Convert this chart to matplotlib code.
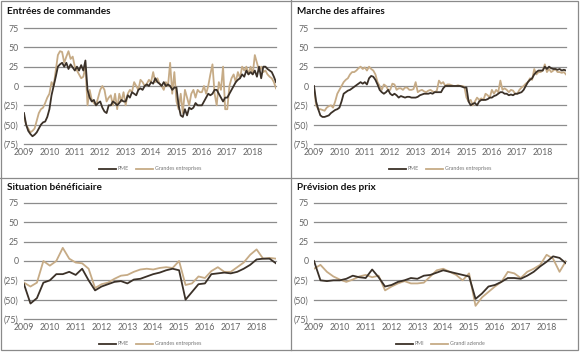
import numpy as np
import matplotlib
matplotlib.use("Agg")
import matplotlib.pyplot as plt
from matplotlib.patches import Rectangle
from matplotlib.lines import Line2D

plt.rcParams["font.family"] = ["Lato", "DejaVu Sans"]

DARK = "#3b3128"
TAN = "#c6ab86"
GRID = "#8c8c8c"
TICK = "#666666"

# monthly series, Jan 2009 - Dec 2018
cmd_pme = [
    -35, -50, -58, -62, -65, -63, -60, -55, -50, -47, -46, -40,
    -30, -12, 0, 12, 25, 28, 30, 25, 30, 22, 28, 24,
    20, 25, 20, 27, 20, 33, -5, -15, -20, -18, -25, -22,
    -20, -28, -33, -35, -25, -25, -20, -22, -25, -22, -18, -20,
    -20, -12, -15, -8, -10, -12, -5, -3, -5, 0, 2, 0,
    5, 3, 10, 5, 3, 0, 5, 0, 2, 0, -5, -2,
    -2, -25, -38, -40, -30, -38, -28, -30, -28, -22, -25, -25,
    -25, -20, -15, -10, -12, -10, -5, -5, -10, -15, -20, -15,
    -15, -10, -5, 0, 5, 8, 10, 15, 12, 20, 15, 18,
    15, 20, 12, 25, 10, 25, 25, 22, 20, 18, 12, 5,
]
cmd_ge = [
    -40, -50, -55, -60, -58, -55, -45, -35, -30, -28, -22, -15,
    -10, 5, 0, 20, 40, 45, 44, 30, 38, 45, 35, 38,
    25, 20, 15, 10, 12, 25, -25, -5, -18, -22, -25, -15,
    -5, 0, -5, -20, -15, -12, -25, -10, -30, -10, -20, -8,
    -25, -10, -5, -8, 5, 0, -5, 8, 5, 0, 3, 8,
    5, 18, 5, 10, 3, 0, -5, 5, 0, 30, -10, 18,
    -20, -30, -10, -35, -5, -15, -25, -10, -5, -15, -5, -8,
    -8, 0, -10, 0, 15, 28, -10, -25, 5, -5, 25, -30,
    -30, 0, 10, 15, 5, 18, 10, 25, 20, 25, 15, 25,
    15, 40, 30, 20, 25, 18, 20, 15, 12, 10, 5, -3,
]
aff_pme = [
    0, -20, -30, -38, -40, -40, -39, -38, -35, -33, -31, -30,
    -28, -20, -10, -8, -6, -5, -3, -1, 1, 3, 5, 3,
    5, 2, 10, 13, 12, 8, 2, -5, -8, -10, -8, -5,
    -10, -12, -10, -12, -15, -13, -14, -15, -14, -14, -15, -15,
    -15, -14, -12, -11, -10, -10, -10, -9, -10, -8, -8, -8,
    -8, -3, 0, 0, 0, 0, 0, 0, 0, 0, -1, -2,
    -2, -20, -25, -23, -22, -25, -20, -18, -18, -18, -17, -15,
    -15, -13, -12, -10, -8, -8, -10, -10, -12, -11, -12, -10,
    -10, -9, -8, -5, 0, 5, 8, 10, 15, 18, 20, 20,
    20, 25, 22, 25, 23, 22, 22, 21, 22, 20, 21, 20,
]
aff_ge = [
    -2, -25, -30, -30, -31, -32, -28, -26, -25, -28, -20, -10,
    -5, 0, 5, 8, 10, 15, 18, 18, 20, 23, 25, 22,
    24, 20, 25, 22, 20, 15, 5, 0, -5, 2, 0, -5,
    -5, 3, 2, -5, -3, -3, -5, -2, -2, -5, -5, -4,
    5, -8, -6, -5, -7, -8, -6, -5, -7, -8, -6, 7,
    3, 5, 0, 2, 2, 1, 0, 0, 1, 0, 0, -1,
    -15, -20, -18, -25, -20, -15, -18, -16, -18, -10, -12, -15,
    -5, -10, -5, -8, 7, -5, -3, -5, -8, -5, -6, -10,
    -10, -5, -2, 0, 3, 5, 10, 8, 22, 15, 18, 18,
    20, 28, 18, 22, 18, 20, 22, 18, 18, 17, 18, 15,
]

# quarterly series, Q1 2009 - Q4 2018
ben_pme = [
    -30, -55, -48, -28, -25, -17, -17, -14, -18, -10, -25, -38,
    -33, -30, -27, -26, -29, -24, -23, -20, -17, -15, -12, -10,
    -12, -50, -40, -30, -29, -17, -16, -15, -16, -14, -10, -5,
    2, 3, 3, -3,
]
ben_ge = [
    -28, -33, -28, 0, -6, 0, 17, 3, -2, -3, -10, -35,
    -30, -28, -23, -19, -18, -14, -11, -10, -11, -9, -8, -9,
    0, -31, -29, -20, -22, -13, -8, -14, -14, -8, -2, 8,
    15, 3, 4, 3,
]
prix_pme = [
    0, -25, -26, -25, -25, -23, -19, -21, -22, -11, -21, -33,
    -31, -27, -25, -22, -23, -19, -18, -15, -12, -14, -16, -18,
    -20, -49, -42, -33, -31, -27, -22, -22, -23, -19, -14, -7,
    -1, 6, 4, -3,
]
prix_ge = [
    -10, -5, -14, -20, -24, -27, -24, -20, -18, -21, -19, -38,
    -33, -29, -26, -29, -29, -28, -20, -12, -10, -14, -18, -25,
    -16, -58, -47, -40, -33, -27, -14, -16, -22, -14, -10, -5,
    8, 3, -14, 0,
]

t_m = 2009 + np.arange(120) / 12
t_q = 2009 + np.arange(40) / 4
years = list(range(2009, 2019))
yticks = [-75, -50, -25, 0, 25, 50, 75]
ylabels = ["(75)", "(50)", "(25)", "0", "25", "50", "75"]

W, H = 580, 353
fig = plt.figure(figsize=(W / 100, H / 100), dpi=100)

panels = [
    ("Entrées de commandes", t_m, cmd_pme, cmd_ge, "PME", "Grandes entreprises", 0, 0),
    ("Marche des affaires", t_m, aff_pme, aff_ge, "PME", "Grandes entreprises", 290, 0),
    ("Situation bénéficiaire", t_q, ben_pme, ben_ge, "PME", "Grandes entreprises", 0, 175),
    ("Prévision des prix", t_q, prix_pme, prix_ge, "PMI", "Grandi aziende", 290, 175),
]

for title, t, pme, ge, lab1, lab2, ox, oy in panels:
    left, right, top, bottom = ox + 24, ox + 276, oy + 28, oy + 144
    ax = fig.add_axes([left / W, 1 - bottom / H, (right - left) / W, (bottom - top) / H])
    ax.plot(t, ge, color=TAN, lw=1.3, label=lab2, zorder=3)
    ax.plot(t, pme, color=DARK, lw=1.3, label=lab1, zorder=4)
    ax.set_xlim(2009, t[-1])
    ax.set_ylim(-75, 75)
    ax.set_yticks(yticks)
    ax.set_yticklabels(ylabels)
    ax.set_xticks(years)
    ax.set_xticklabels([str(y) for y in years])
    ax.grid(axis="y", color=GRID, lw=0.9)
    for gl in ax.get_ygridlines():
        gl.set_clip_on(False)
    for s in ax.spines.values():
        s.set_visible(False)
    ax.tick_params(length=0, labelsize=6.3, colors=TICK, pad=4)
    ax.tick_params(axis="x", pad=3)
    handles, labels = ax.get_legend_handles_labels()
    leg = ax.legend(handles[::-1], labels[::-1], loc="center", bbox_to_anchor=(0.5, -0.215),
                    ncol=2, frameon=False, fontsize=3.8, handlelength=3.2,
                    handletextpad=0.3, columnspacing=1.4, labelcolor="#777777")
    fig.text((ox + 7) / W, 1 - (oy + 12) / H, title, fontsize=7.2, fontweight="bold",
             color="#111111", ha="left", va="center")

# panel frame and dividers
fig.add_artist(Rectangle((0.5 / W, 1 - 349.5 / H), 577 / W, 349 / H, transform=fig.transFigure,
                         fill=False, edgecolor="#8a8a8a", lw=0.9))
fig.add_artist(Line2D([290.5 / W, 290.5 / W], [1 - 349.5 / H, 1], transform=fig.transFigure,
                      color="#8a8a8a", lw=0.9))
fig.add_artist(Line2D([0, 577.5 / W], [1 - 177.5 / H, 1 - 177.5 / H], transform=fig.transFigure,
                      color="#8a8a8a", lw=0.9))

fig.savefig("out.png", dpi=100, facecolor="white")
